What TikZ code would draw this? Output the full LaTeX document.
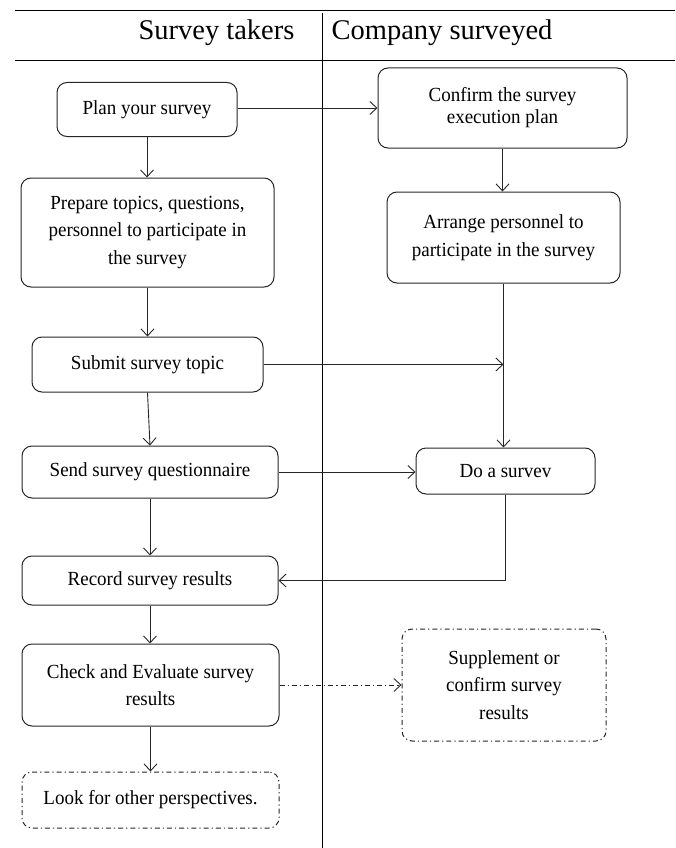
\documentclass[tikz,border=0pt]{standalone}
\usepackage{fontspec}
\setmainfont{Liberation Serif}
\newfontfamily\bodyfont{Liberation Serif}[FakeStretch=0.95]
\usetikzlibrary{arrows.meta}
\begin{document}
\begin{tikzpicture}[x=1pt,y=-1pt,
  box/.style={draw=black!85,line width=1pt,rounded corners=10pt,align=center,inner sep=0pt,
    font=\bodyfont\fontsize{20}{27.5}\selectfont},
  dbox/.style={box,dash pattern=on 5pt off 3pt on 1.2pt off 3pt},
  arr/.style={draw=black!85,line width=0.9pt,-{Straight Barb[length=7pt,width=13pt,line width=0.9pt]}},
  darr/.style={arr,dash pattern=on 5pt off 3pt on 1.2pt off 3pt},
  rule/.style={draw=black,line width=0.9pt},
  head/.style={font=\fontsize{28.5}{32}\selectfont,inner sep=0pt}]
\useasboundingbox (0,0) rectangle (675,848);
% header
\coordinate (tl) at (15,10);
\coordinate (tr) at (675,10);
\coordinate (bl) at (15,60);
\coordinate (br) at (675,60);
\coordinate (vt) at (322,13);
\coordinate (vb) at (322,848);
\draw[rule] (tl) -- (tr);
\draw[rule] (bl) -- (br);
\draw[rule] (vt) -- (vb);
\node[head] (h1) at (216.5,33) {Survey takers};
\node[head] (h2) at (442,33) {Company surveyed};
% left column
\node[box,minimum width=180pt,minimum height=54pt] (plan) at (147,109.5) {Plan your survey};
\node[box,minimum width=253pt,minimum height=109pt] (prep) at (147.5,232.5) {Prepare topics, questions,\\personnel to participate in\\the survey};
\node[box,minimum width=231pt,minimum height=55pt] (submit) at (147.5,364.5) {Submit survey topic};
\node[box,minimum width=256pt,minimum height=52pt] (send) at (150,472) {Send survey questionnaire};
\node[box,minimum width=256pt,minimum height=49pt] (record) at (150,580.5) {Record survey results};
\node[box,minimum width=257pt,minimum height=82pt] (check) at (150.5,685) {Check and Evaluate survey\\results};
\node[dbox,minimum width=257pt,minimum height=56pt] (look) at (150.5,800) {Look for other perspectives.};
% right column
\node[box,minimum width=249pt,minimum height=80pt,font=\bodyfont\fontsize{20}{22}\selectfont] (confirm) at (502.5,108) {Confirm the survey\\execution plan};
\node[box,minimum width=233pt,minimum height=91pt] (arrange) at (503.5,237.5) {Arrange personnel to\\participate in the survey};
\node[box,minimum width=179pt,minimum height=46pt] (doa) at (505.5,471) {Do a survev};
\node[dbox,minimum width=204pt,minimum height=112pt] (supp) at (504,685) {Supplement or\\confirm survey\\results};
% connectors
\draw[arr] (plan.south) -- (plan.south |- prep.north);
\draw[arr] (plan.east |- confirm.west) -- (confirm.west);
\draw[arr] (confirm.south) -- (confirm.south |- arrange.north);
\draw[arr] (prep.south) -- (prep.south |- submit.north);
\draw[arr] (submit.south) -- (send.north);
\draw[arr] (submit.east) -- (submit.east -| arrange.south);
\draw[arr] (arrange.south) -- (arrange.south |- doa.north);
\draw[arr] (send.east) -- (send.east -| doa.west);
\draw[arr] (doa.south) |- (record.east);
\draw[arr] (send.south) -- (send.south |- record.north);
\draw[arr] (record.south) -- (record.south |- check.north);
\draw[darr] (check.east) -- (check.east -| supp.west);
\draw[arr] (check.south) -- (check.south |- look.north);
\end{tikzpicture}
\end{document}
